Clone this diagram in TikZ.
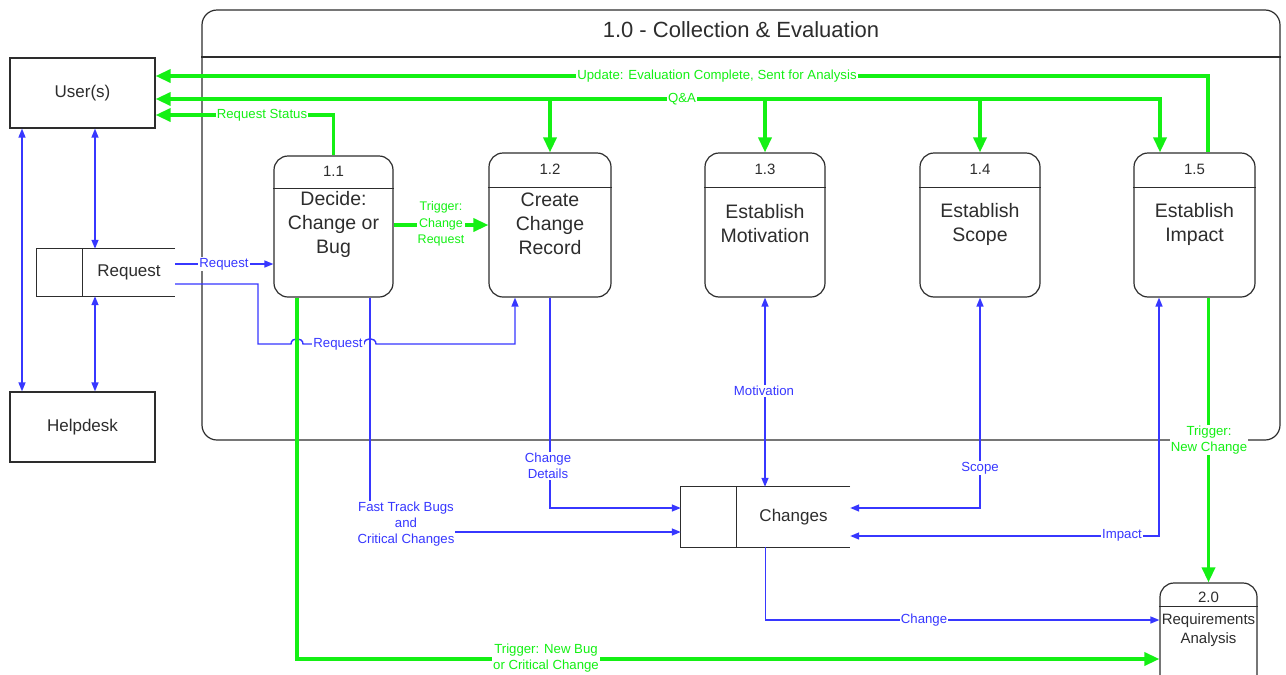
\documentclass[tikz,border=0pt]{standalone}
\usepackage{fontspec}
\setmainfont{Liberation Sans}
\usetikzlibrary{arrows.meta}
\definecolor{gr}{RGB}{20,240,20}
\definecolor{bl}{RGB}{55,55,255}
\definecolor{ln}{RGB}{45,45,45}
\begin{document}
\begin{tikzpicture}[x=1pt,y=-1pt,
  gt/.tip={Triangle[length=15pt,width=13pt]},
  bt/.tip={Triangle[length=9pt,width=7pt]},
  box/.style={draw=ln, line width=1.2pt, inner sep=0pt},
  proc/.style={box, rounded corners=14pt},
  gline/.style={draw=gr, line width=3.4pt},
  bline/.style={draw=bl, line width=1.4pt},
  glab/.style={fill=white, text=gr, inner sep=1pt, align=center, font=\fontsize{13.2}{16}\selectfont},
  blab/.style={fill=white, text=bl, inner sep=1pt, align=center, font=\fontsize{13.2}{16}\selectfont},
  ptxt/.style={align=center, text=ln, font=\fontsize{19.5}{24}\selectfont},
  pnum/.style={text=ln, font=\fontsize{15}{18}\selectfont},
  etxt/.style={text=ln, font=\fontsize{17}{20}\selectfont},
]
\clip (0,0) rectangle (1286,675);
\fill[white] (0,0) rectangle (1286,675);

% frame 1.0
\node[proc, rounded corners=15pt, minimum width=1078pt, minimum height=430pt] (frame) at (741,225) {};
\draw[box] (frame.west |- 0,57) -- (frame.east |- 0,57);
\node[text=ln, font=\fontsize{22}{26}\selectfont] (title) at (741,30) {1.0 - Collection \& Evaluation};

% external entities
\node[box, minimum width=145pt, minimum height=70pt] (u) at (82.5,93) {};
\node[etxt] (ut) at (82.5,93) {User(s)};
\node[box, minimum width=145pt, minimum height=70pt] (h) at (82.5,427) {};
\node[etxt] (ht) at (82.5,427) {Helpdesk};

% data stores
\node[inner sep=0pt, minimum width=138pt, minimum height=47pt] (rq) at (106,272.5) {};
\draw[box] (rq.north east) -- (rq.north west) -- (rq.south west) -- (rq.south east);
\draw[box] ([xshift=46pt]rq.north west) -- ([xshift=46pt]rq.south west);
\node[etxt] (rqt) at (129,272.5) {Request};

\node[inner sep=0pt, minimum width=169pt, minimum height=60pt] (ch) at (765.5,517) {};
\draw[box] (ch.north east) -- (ch.north west) -- (ch.south west) -- (ch.south east);
\draw[box] ([xshift=56pt]ch.north west) -- ([xshift=56pt]ch.south west);
\node[etxt] (cht) at (793.5,517) {Changes};

% processes
\node[proc, minimum width=119pt, minimum height=141pt] (p11) at (333.5,226.5) {};
\draw[box] ([yshift=-33pt]p11.north west) -- ([yshift=-33pt]p11.north east);
\node[pnum] (n11) at (333.5,171) {1.1};
\node[ptxt] (t11) at (333.5,224) {Decide:\\Change or\\Bug};

\node[proc, minimum width=122pt, minimum height=144pt] (p12) at (550,225) {};
\draw[box] ([yshift=-35pt]p12.north west) -- ([yshift=-35pt]p12.north east);
\node[pnum] (n12) at (550,169) {1.2};
\node[ptxt] (t12) at (550,224) {Create\\Change\\Record};

\node[proc, minimum width=120pt, minimum height=144pt] (p13) at (765,225) {};
\draw[box] ([yshift=-35pt]p13.north west) -- ([yshift=-35pt]p13.north east);
\node[pnum] (n13) at (765,169) {1.3};
\node[ptxt] (t13) at (765,224) {Establish\\Motivation};

\node[proc, minimum width=120pt, minimum height=144pt] (p14) at (980,225) {};
\draw[box] ([yshift=-35pt]p14.north west) -- ([yshift=-35pt]p14.north east);
\node[pnum] (n14) at (980,169) {1.4};
\node[ptxt] (t14) at (980,224) {Establish\\Scope};

\node[proc, minimum width=121pt, minimum height=144pt] (p15) at (1194.5,225) {};
\draw[box] ([yshift=-35pt]p15.north west) -- ([yshift=-35pt]p15.north east);
\node[pnum] (n15) at (1194.5,169) {1.5};
\node[ptxt] (t15) at (1194.5,224) {Establish\\Impact};

\node[proc, minimum width=97pt, minimum height=130pt] (p20) at (1208.5,648) {};
\draw[box] ([yshift=-24pt]p20.north west) -- ([yshift=-24pt]p20.north east);
\node[pnum] (n20) at (1208.5,597) {2.0};
\node[align=center, text=ln, font=\fontsize{15}{19}\selectfont] (t20) at (1208.5,630) {Requirements\\Analysis};

% blue connectors
\draw[bline, bt-bt] (22,0 |- u.south) -- (22,0 |- h.north);
\draw[bline, bt-bt] (95,0 |- u.south) -- (95,0 |- rq.north);
\draw[bline, bt-bt] (95,0 |- rq.south) -- (95,0 |- h.north);
\draw[bline, -bt] (rq.east |- 0,264) -- (p11.west |- 0,264);
\draw[bline, -bt] (rq.east |- 0,284) -- (258,284) -- (258,344) -- (291,344)
   .. controls (291,337) and (303,337) .. (303,344) -- (364,344)
   .. controls (364,337) and (376,337) .. (376,344) -- (515,344) -- (515,0 |- p12.south);
\draw[bline, -bt] (370,0 |- p11.south) |- (ch.west |- 0,532);
\draw[bline, -bt] (p12.south) |- (ch.west |- 0,508);
\draw[bline, bt-bt] (p13.south) -- (p13.south |- ch.north);
\draw[bline, bt-bt] (ch.east |- 0,508) -| (p14.south);
\draw[bline, bt-bt] (ch.east |- 0,536) -| (1159,0 |- p15.south);
\draw[bline, -bt] (ch.south) |- (p20.west |- 0,620);

% green connectors
\draw[gline, -gt] (1208,0 |- p15.north) |- (u.east |- 0,76);
\draw[gline, gt-gt] (1160,0 |- p15.north) |- (u.east |- 0,99);
\draw[gline, -gt] (p12.north |- 0,99) -- (p12.north);
\draw[gline, -gt] (p13.north |- 0,99) -- (p13.north);
\draw[gline, -gt] (p14.north |- 0,99) -- (p14.north);
\draw[gline, -gt] (p11.north) |- (u.east |- 0,115);
\draw[gline, -gt] (p11.east |- 0,225) -- (p12.west);
\draw[gline, -gt] (297,0 |- p11.south) |- (p20.west |- 0,659);
\draw[gline, -gt] (p20.north |- p15.south) -- (p20.north);

% labels
\node[glab] (l1) at (717,76) {Update: Evaluation Complete, Sent for Analysis};
\node[glab] (l2) at (682,99) {Q\&A};
\node[glab] (l3) at (262,115) {Request Status};
\node[glab, font=\fontsize{12.5}{16.5}\selectfont] (l4) at (441,224) {Trigger:\\Change\\Request};
\node[glab] (l5) at (546,658) {Trigger: New Bug\\or Critical Change};
\node[glab] (l6) at (1209,440) {Trigger:\\New Change};
\node[blab] (l7) at (224,264) {Request};
\node[blab] (l8) at (338,344) {Request};
\node[blab] (l9) at (406,524) {Fast Track Bugs\\and\\Critical Changes};
\node[blab] (l10) at (548,466) {Change\\Details};
\node[blab] (l11) at (764,391) {Motivation};
\node[blab] (l12) at (980,468) {Scope};
\node[blab] (l13) at (1122,535) {Impact};
\node[blab] (l14) at (924,620) {Change};
\end{tikzpicture}
\end{document}
